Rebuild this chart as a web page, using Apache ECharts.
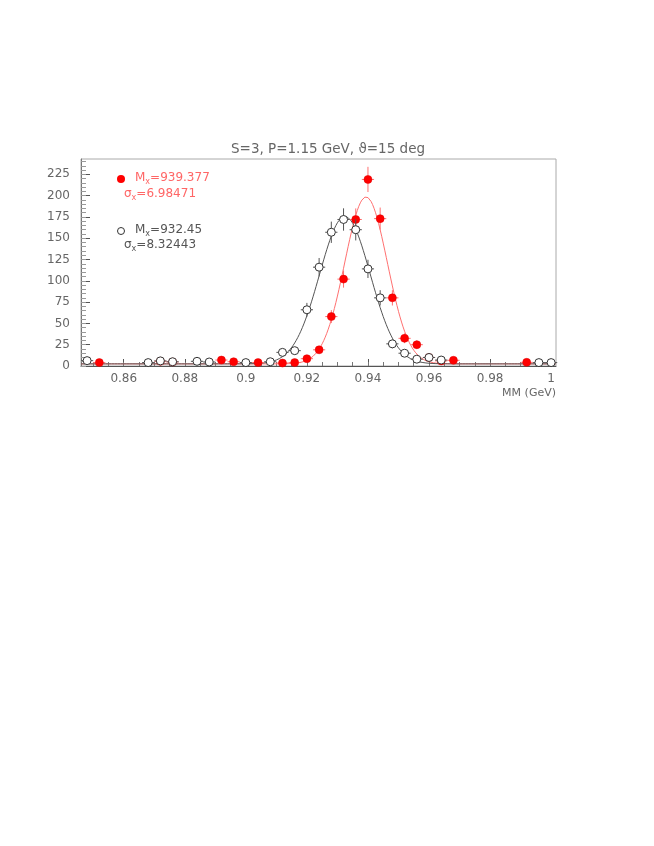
<!DOCTYPE html>
<html>
<head>
<meta charset="utf-8">
<script src="https://cdn.jsdelivr.net/npm/echarts@6/dist/echarts.min.js"></script>
<style>
  html, body { margin: 0; padding: 0; background: #fff; }
  #chart { width: 654px; height: 846px; }
</style>
</head>
<body>
<div id="chart"></div>
<script>
// S=3 sample (red, filled) : bin centres, counts, errors
var redX = [0.852, 0.872, 0.876, 0.892, 0.896, 0.904, 0.912, 0.916, 0.920, 0.924, 0.928,
            0.932, 0.936, 0.940, 0.944, 0.948, 0.952, 0.956, 0.960, 0.964, 0.968, 0.992];
var redY = [4, 5.5, 4.7, 7, 5, 4, 3.5, 4, 8.6, 19, 58,
            102, 172, 219, 173, 80, 32.5, 25, 10, 6, 6.7, 4.3];
var redErr = [2, 2.3, 2.2, 2.6, 2.2, 2, 1.9, 2, 2.9, 4.4, 7.6,
              10, 13, 14.8, 13, 9, 5.7, 5, 3.2, 2.4, 2.6, 2.1];

// reference sample (black, open)
var blkX = [0.848, 0.868, 0.872, 0.876, 0.884, 0.888, 0.900, 0.908, 0.912, 0.916, 0.920, 0.924,
            0.928, 0.932, 0.936, 0.940, 0.944, 0.948, 0.952, 0.956, 0.960, 0.964, 0.996, 1.000];
var blkY = [6.3, 4, 6, 5, 5.5, 4.7, 4, 5, 16, 18, 66, 116,
            157, 172, 160, 114, 80, 26, 15, 8, 10, 7, 4, 4];
var blkErr = [2.5, 2, 2.4, 2.2, 2.3, 2.2, 2, 2.2, 4, 4.2, 8.1, 10.8,
              12.5, 13.1, 12.6, 10.7, 9, 5.1, 3.9, 2.8, 3.2, 2.6, 2, 2];

var halfBin = 0.002;

var redFit = { mean: 0.939377, sigma: 0.00698471, amp: 196, bg: 2.5 };
var blkFit = { mean: 0.93245, sigma: 0.00832443, amp: 173, bg: 2.5 };

var xTickLabels = [0.86, 0.88, 0.9, 0.92, 0.94, 0.96, 0.98, 1];
var yTickLabels = [0, 25, 50, 75, 100, 125, 150, 175, 200, 225];

var xMin = 0.846, xMax = 1.0016, yMax = 243;

function zip(xs, ys, es) {
  return xs.map(function (x, i) { return es ? [x, ys[i], es[i]] : [x, ys[i]]; });
}

function fitCurve(p) {
  var pts = [];
  for (var x = xMin; x <= xMax + 1e-9; x += 0.0005) {
    var t = (x - p.mean) / p.sigma;
    pts.push([x, p.bg + p.amp * Math.exp(-0.5 * t * t)]);
  }
  return pts;
}

function errorBars(color) {
  return function (params, api) {
    var x = api.value(0), y = api.value(1), e = api.value(2);
    var lo = api.coord([x, y - e]), hi = api.coord([x, y + e]);
    var l = api.coord([x - halfBin, y]), r = api.coord([x + halfBin, y]);
    var st = { stroke: color, lineWidth: 1 };
    return {
      type: 'group',
      children: [
        { type: 'line', shape: { x1: lo[0], y1: lo[1], x2: hi[0], y2: hi[1] }, style: st },
        { type: 'line', shape: { x1: l[0], y1: l[1], x2: r[0], y2: r[1] }, style: st }
      ]
    };
  };
}

var minorX = [];
for (var i = 0; i <= 31; i++) minorX.push(+(0.85 + i * 0.005).toFixed(3));
var minorY = [];
for (var j = 0; j <= 48; j++) minorY.push(j * 5);

var txt = '#666';
var font = 'DejaVu Sans';

function statText(str, color) {
  return {
    text: str, fill: color,
    rich: {
      a: { fontSize: 12, fontFamily: font, fill: color, lineHeight: 16 },
      s: { fontSize: 8, fontFamily: font, fill: color, verticalAlign: 'bottom', lineHeight: 16, padding: [6, 0, 0, 0] }
    }
  };
}

var chart = echarts.init(document.getElementById('chart'));

var option = {
  animation: false,
  backgroundColor: '#fff',
  textStyle: { fontFamily: font },
  title: {
    text: 'S=3, P=1.15 GeV, \u03D1=15 deg',
    left: 231, top: 142,
    padding: 0,
    textStyle: { fontSize: 13.5, fontWeight: 'normal', color: txt, fontFamily: font }
  },
  grid: {
    left: 81, right: 98, top: 159, bottom: 480,
    show: true, borderColor: '#aaa', borderWidth: 1
  },
  xAxis: [{
    type: 'value', min: xMin, max: xMax,
    name: 'MM (GeV)', nameLocation: 'end', nameGap: 0,
    nameTextStyle: { color: txt, fontSize: 11, fontFamily: font, align: 'right', verticalAlign: 'top', padding: [22, 0, 0, 0] },
    axisLine: { show: true, lineStyle: { color: '#555' } },
    axisTick: { show: true, inside: true, length: 7, customValues: xTickLabels, lineStyle: { color: '#555' } },
    axisLabel: {
      customValues: xTickLabels, color: txt, fontSize: 12, fontFamily: font, margin: 7,
      formatter: function (v) { return String(+v.toFixed(2)); }
    },
    splitLine: { show: false }
  }, {
    type: 'value', min: xMin, max: xMax, position: 'bottom',
    axisLine: { show: false },
    axisTick: { show: true, inside: true, length: 4, customValues: minorX, lineStyle: { color: '#777' } },
    axisLabel: { show: false },
    splitLine: { show: false }
  }],
  yAxis: [{
    type: 'value', min: 0, max: yMax,
    axisLine: { show: true, lineStyle: { color: '#777' } },
    axisTick: { show: true, inside: true, length: 9, customValues: yTickLabels, lineStyle: { color: '#555' } },
    axisLabel: { customValues: yTickLabels, color: txt, fontSize: 12, fontFamily: font, margin: 11 },
    splitLine: { show: false }
  }, {
    type: 'value', min: 0, max: yMax, position: 'left',
    axisLine: { show: false },
    axisTick: { show: true, inside: true, length: 5, customValues: minorY, lineStyle: { color: '#999' } },
    axisLabel: { show: false },
    splitLine: { show: false }
  }],
  series: [
    {
      type: 'line', data: fitCurve(redFit), showSymbol: false, symbol: 'none',
      lineStyle: { color: '#ff7070', width: 1 }, z: 2
    },
    {
      type: 'line', data: fitCurve(blkFit), showSymbol: false, symbol: 'none',
      lineStyle: { color: '#555', width: 1 }, z: 2
    },
    {
      type: 'custom', data: zip(redX, redY, redErr), renderItem: errorBars('#ff7070'),
      encode: { x: 0, y: 1 }, z: 3
    },
    {
      type: 'scatter', data: zip(redX, redY), symbol: 'circle', symbolSize: 8,
      itemStyle: { color: '#ff0000', borderColor: '#e00000', borderWidth: 0.5, opacity: 1 }, z: 4
    },
    {
      type: 'custom', data: zip(blkX, blkY, blkErr), renderItem: errorBars('#555'),
      encode: { x: 0, y: 1 }, z: 5
    },
    {
      type: 'scatter', data: zip(blkX, blkY), symbol: 'circle', symbolSize: 8,
      itemStyle: { color: '#fff', borderColor: '#333', borderWidth: 1, opacity: 1 }, z: 6
    }
  ],
  graphic: [
    { type: 'circle', shape: { cx: 121, cy: 179, r: 4 }, style: { fill: '#ff0000' } },
    { type: 'circle', shape: { cx: 121, cy: 231, r: 3.5 }, style: { fill: '#fff', stroke: '#333', lineWidth: 1 } },
    { type: 'text', left: 135, top: 172, style: statText('{a|M}{s|x}{a|=939.377}', '#ff6666') },
    { type: 'text', left: 124, top: 188, style: statText('{a|\u03C3}{s|x}{a|=6.98471}', '#ff6666') },
    { type: 'text', left: 135, top: 224, style: statText('{a|M}{s|x}{a|=932.45}', '#555') },
    { type: 'text', left: 124, top: 239, style: statText('{a|\u03C3}{s|x}{a|=8.32443}', '#555') }
  ]
};

chart.setOption(option);
</script>
</body>
</html>
